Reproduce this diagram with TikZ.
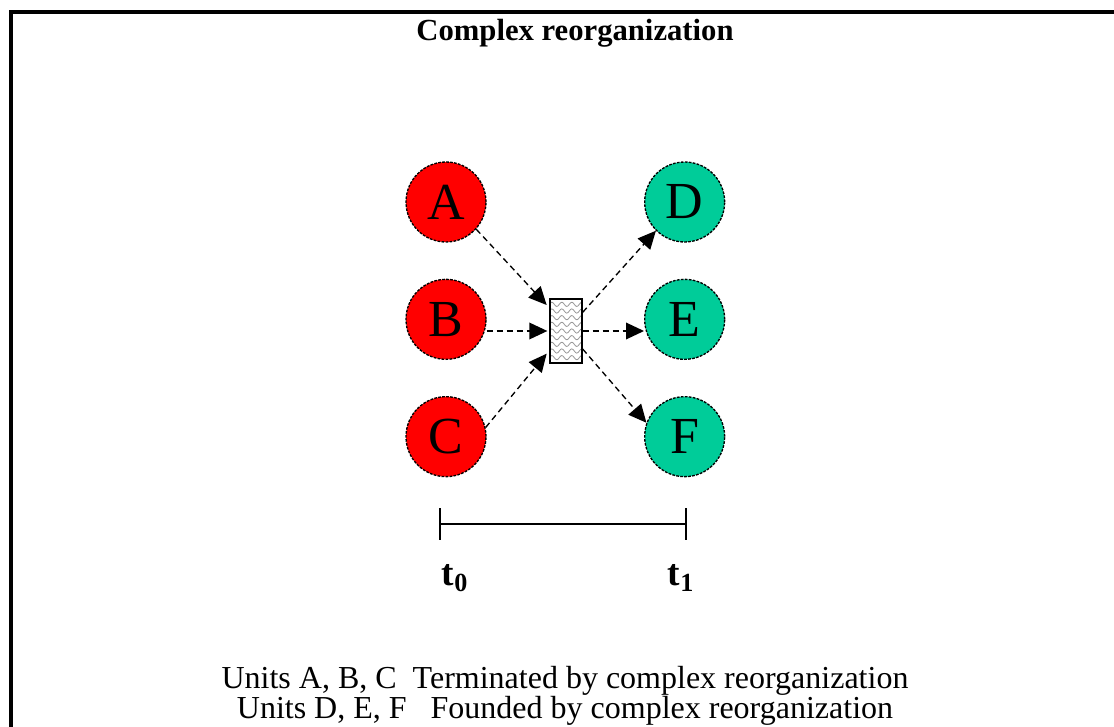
\documentclass[tikz,border=0pt]{standalone}
\usepackage{fontspec}
\setmainfont{Liberation Serif}
\usetikzlibrary{shapes.geometric, arrows.meta, decorations.pathmorphing}
\definecolor{foundedgreen}{RGB}{0,204,153}
\tikzset{
  unit/.style = {shape=circle, draw, line width=1pt,
                 dash pattern=on 2pt off 1pt,
                 minimum size=60pt, inner sep=0pt,
                 font=\fontsize{39}{42}\selectfont},
  ended/.style = {unit, fill=red},
  founded/.style = {unit, fill=foundedgreen},
  reorg/.style = {shape=rectangle, draw, line width=1pt, fill=white,
                  minimum width=24pt, minimum height=48pt, inner sep=0pt,
                  path picture={\foreach \k in {1,...,9}
                    \draw[gray!80, line width=0.6pt, decorate,
                          decoration={snake, segment length=7.5pt, amplitude=1.6pt}]
                      ([xshift=-1pt, yshift=-\k*5pt+1pt]path picture bounding box.north west) -- ++(28pt,0);}},
  arrow/.style = {line width=1pt, dash pattern=on 4.5pt off 3pt,
                  -{Triangle[length=13.5pt, width=12.5pt]}},
  timeline/.style = {line width=1.1pt}
}
\begin{document}
\begin{tikzpicture}[x=0.75pt, y=-0.75pt, node distance=88pt]
  \useasboundingbox (0,0) rectangle (1114,727);
  \draw [line width=2.4pt] (11,727) -- (11,12) -- (1114,12);

  \node (title) at (575,33) {\fontsize{23}{26}\selectfont\bfseries Complex reorganization};

  % units before and after
  \node (A) [ended] at (446,202) {A};
  \node (B) [ended, below of=A] {B};
  \node (C) [ended, below of=B] {C};
  \node (D) [founded, right of=A, xshift=91pt] {D};
  \node (E) [founded, below of=D] {E};
  \node (F) [founded, below of=E] {F};
  \node (mix) [reorg] at (566,331) {};

  \draw [arrow] (A.-42) -- ([xshift=-2pt, yshift=-5pt]mix.north west);
  \draw [arrow] (B.east |- mix.west) -- ([xshift=-1.5pt]mix.west);
  \draw [arrow] (C.13) -- ([xshift=-2pt, yshift=7.5pt]mix.south west);
  \draw [arrow] ([yshift=-10.5pt]mix.north east) -- (D.225);
  \draw [arrow] (mix.east) -- (E.west |- mix.east);
  \draw [arrow] ([yshift=11pt]mix.south east) -- (F.160);

  % time axis
  \coordinate (t0) at (440,524);
  \coordinate (t1) at (686,524);
  \draw [timeline] (t0) -- (t1);
  \draw [timeline] ([yshift=12pt]t0) -- ([yshift=-12pt]t0);
  \draw [timeline] ([yshift=12pt]t1) -- ([yshift=-12pt]t1);
  \node (lab0) at (455,578) {\fontsize{28}{30}\selectfont\textbf{t\textsubscript{0}}};
  \node (lab1) at (681,578) {\fontsize{28}{30}\selectfont\textbf{t\textsubscript{1}}};

  \node (notes) [align=center, font=\fontsize{24}{21.75}\selectfont] at (565,696)
    {Units A, B, C\ \ Terminated by complex reorganization\\
     Units D, E, F\ \ \ Founded by complex reorganization};
\end{tikzpicture}
\end{document}
